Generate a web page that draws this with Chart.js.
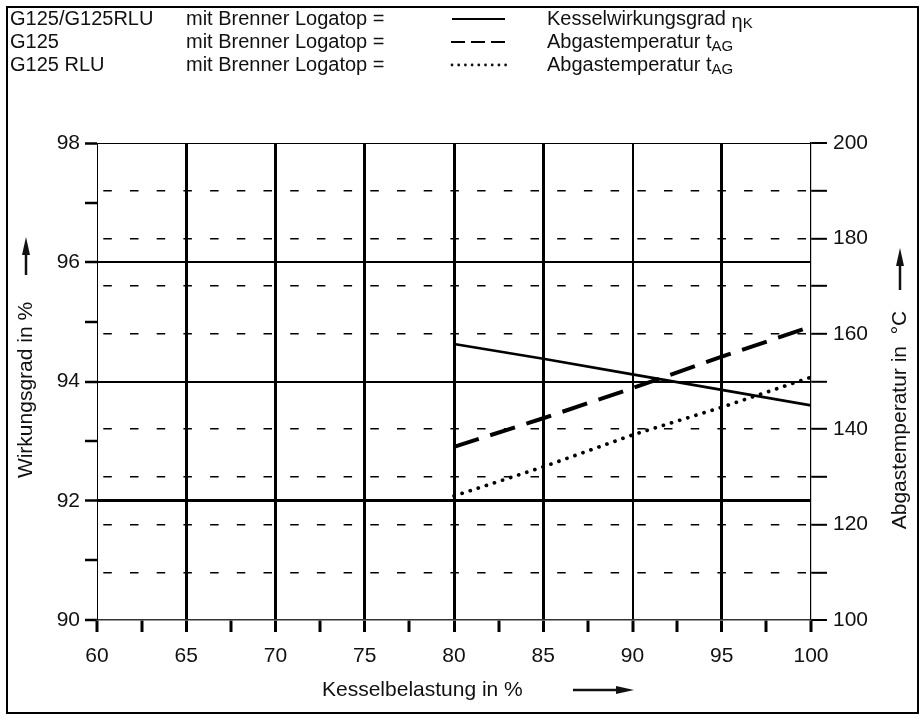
<!DOCTYPE html>
<html>
<head>
<meta charset="utf-8">
<script src="https://cdn.jsdelivr.net/npm/chart.js@4.4.1/dist/chart.umd.min.js"></script>
<style>
  html, body { margin: 0; padding: 0; background: #fff; }
  #wrap { position: relative; width: 922px; height: 720px; }
  canvas { display: block; }
</style>
</head>
<body>
<div id="wrap"><canvas id="c" width="922" height="720"></canvas></div>
<script>
// ---- Data ----
const loadPct = [80, 85, 90, 95, 100];                 // Kesselbelastung in %
const efficiency = [94.63, 94.38, 94.12, 93.86, 93.60]; // Kesselwirkungsgrad (left axis, %)
const tempG125 = [136.3, 142.3, 148.6, 155.2, 161.5];   // Abgastemperatur G125 (right axis, °C)
const tempRLU = [126.0, 132.1, 138.8, 144.6, 150.9];    // Abgastemperatur G125 RLU (right axis, °C)

const xMin = 60, xMax = 100;
const yLeftMin = 90, yLeftMax = 98;
const yRightMin = 100, yRightMax = 200;

const legendRows = [
  ['G125/G125RLU', 'mit Brenner Logatop =', 'Kesselwirkungsgrad ', 'η', 'K'],
  ['G125', 'mit Brenner Logatop =', 'Abgastemperatur t', '', 'AG'],
  ['G125 RLU', 'mit Brenner Logatop =', 'Abgastemperatur t', '', 'AG']
];
const titleLeft = 'Wirkungsgrad in %';
const titleRight = 'Abgastemperatur in  °C';
const titleBottom = 'Kesselbelastung in %';

const FONT = '"Liberation Sans", Arial, Helvetica, sans-serif';
const INK = '#111';
const TICK_SIZE = 21;

function pts(xs, ys) { return xs.map((x, i) => ({ x, y: ys[i] })); }

function arrow(ctx, x1, y1, x2, y2) {
  const ang = Math.atan2(y2 - y1, x2 - x1);
  const hl = 18, hw = 4;
  const bx = x2 - Math.cos(ang) * hl, by = y2 - Math.sin(ang) * hl;
  ctx.save();
  ctx.strokeStyle = INK; ctx.fillStyle = INK; ctx.lineWidth = 2.5;
  ctx.beginPath(); ctx.moveTo(x1, y1); ctx.lineTo(bx, by); ctx.stroke();
  ctx.beginPath();
  ctx.moveTo(x2, y2);
  ctx.lineTo(bx + Math.sin(ang) * hw, by - Math.cos(ang) * hw);
  ctx.lineTo(bx - Math.sin(ang) * hw, by + Math.cos(ang) * hw);
  ctx.closePath(); ctx.fill();
  ctx.restore();
}

const decorPlugin = {
  id: 'decor',
  afterDraw(chart) {
    const ctx = chart.ctx;
    ctx.save();
    // outer frame
    ctx.strokeStyle = '#000'; ctx.lineWidth = 2;
    ctx.strokeRect(7, 7, 911, 706);

    // legend
    ctx.fillStyle = INK;
    ctx.textBaseline = 'middle';
    ctx.textAlign = 'left';
    const rowY = [19, 42, 65];
    legendRows.forEach((r, i) => {
      const y = rowY[i];
      ctx.font = '20px ' + FONT;
      ctx.fillText(r[0], 10, y);
      ctx.fillText(r[1], 186, y);
      ctx.fillText(r[2], 547, y);
      let x = 547 + ctx.measureText(r[2]).width;
      if (r[3]) { ctx.fillText(r[3], x, y + 3); x += ctx.measureText(r[3]).width; }
      ctx.font = '15px ' + FONT;
      ctx.fillText(r[4], x, y + 5);
    });
    // legend line samples
    ctx.strokeStyle = '#000';
    ctx.lineWidth = 2.2;
    ctx.beginPath(); ctx.moveTo(452, 19); ctx.lineTo(505, 19); ctx.stroke();
    ctx.setLineDash([14, 6]);
    ctx.beginPath(); ctx.moveTo(451, 42); ctx.lineTo(505, 42); ctx.stroke();
    ctx.setLineDash([]);
    for (let k = 0; k < 9; k++) {
      ctx.beginPath(); ctx.arc(452 + k * 6.7, 65, 1.4, 0, Math.PI * 2); ctx.fill();
    }

    // axis titles
    ctx.font = '21px ' + FONT;
    ctx.textAlign = 'center';
    ctx.save(); ctx.translate(26, 390); ctx.rotate(-Math.PI / 2); ctx.fillText(titleLeft, 0, 0); ctx.restore();
    ctx.save(); ctx.translate(900, 420); ctx.rotate(-Math.PI / 2); ctx.fillText(titleRight, 0, 0); ctx.restore();
    ctx.textAlign = 'left';
    ctx.fillText(titleBottom, 322, 690);

    // arrows
    arrow(ctx, 26, 275, 26, 237);
    arrow(ctx, 900, 290, 900, 248);
    arrow(ctx, 573, 690, 634, 690);
    ctx.restore();
  }
};

const ctx = document.getElementById('c').getContext('2d');
new Chart(ctx, {
  type: 'line',
  data: {
    datasets: [
      { label: 'Kesselwirkungsgrad', data: pts(loadPct, efficiency), yAxisID: 'y',
        borderColor: '#000', borderWidth: 2.6, pointRadius: 0, tension: 0, fill: false },
      { label: 'Abgastemperatur G125', data: pts(loadPct, tempG125), yAxisID: 'y2',
        borderColor: '#000', borderWidth: 4, borderDash: [26, 12], pointRadius: 0, tension: 0, fill: false },
      { label: 'Abgastemperatur G125 RLU', data: pts(loadPct, tempRLU), yAxisID: 'y2',
        borderColor: '#000', borderWidth: 3.7, borderDash: [0.1, 8.4], borderCapStyle: 'round',
        pointRadius: 0, tension: 0, fill: false }
    ]
  },
  options: {
    responsive: false,
    animation: false,
    devicePixelRatio: 1,
    layout: { padding: { top: 143, left: 0, right: 0, bottom: 0 } },
    plugins: { legend: { display: false }, tooltip: { enabled: false }, title: { display: false } },
    scales: {
      x: {
        type: 'linear', position: 'bottom', min: xMin, max: xMax,
        afterFit: s => { s.height = 100; },
        ticks: {
          stepSize: 2.5, padding: 12, color: INK, font: { family: FONT, size: TICK_SIZE },
          maxRotation: 0, autoSkip: false,
          callback: v => (v % 5 === 0 ? String(v) : '')
        },
        grid: {
          color: '#000', tickColor: '#000', tickLength: 12, tickWidth: 3,
          lineWidth: c => {
            const v = c.tick ? c.tick.value : null;
            if (v === null || v === xMin || v === xMax) return 0;
            if (v % 5 !== 0) return 0;
            return v === 90 ? 2 : 3;
          }
        },
        border: { display: true, color: '#333', width: 1.5 }
      },
      y: {
        type: 'linear', position: 'left', min: yLeftMin, max: yLeftMax,
        afterFit: s => { s.width = 97; },
        ticks: {
          stepSize: 1, padding: 5, color: INK, font: { family: FONT, size: TICK_SIZE },
          callback: v => (v % 2 === 0 ? String(v) : '')
        },
        grid: {
          color: '#000', tickColor: '#000', tickLength: 12, tickWidth: 2.5,
          lineWidth: c => {
            const v = c.tick ? c.tick.value : null;
            if (v === yLeftMax) return 1;
            if (v === 96 || v === 94) return 2;
            if (v === 92) return 3;
            return 0;
          }
        },
        border: { display: true, color: '#000', width: 1 }
      },
      y2: {
        type: 'linear', position: 'right', min: yRightMin, max: yRightMax,
        afterFit: s => { s.width = 111; },
        ticks: {
          stepSize: 10, padding: 6, color: INK, font: { family: FONT, size: TICK_SIZE },
          callback: v => (v % 20 === 0 ? String(v) : '')
        },
        grid: {
          color: '#000', tickColor: '#000', tickLength: 16, tickWidth: 2,
          lineWidth: c => {
            const v = c.tick ? c.tick.value : null;
            if (v === null || v === yRightMin || v === yRightMax) return 0;
            return 1.6;
          }
        },
        border: { display: true, color: '#000', width: 1.2, dash: [8.5, 18.2], dashOffset: 20.4 }
      }
    }
  },
  plugins: [decorPlugin]
});
</script>
</body>
</html>
